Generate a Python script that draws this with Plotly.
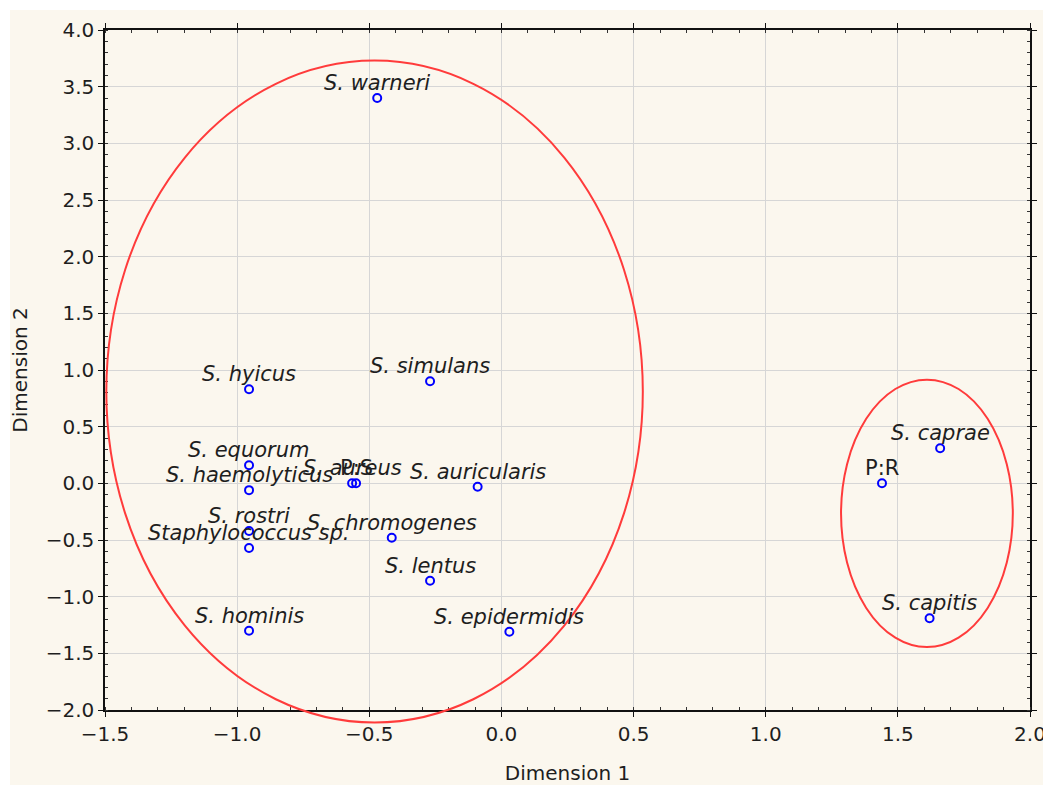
import plotly.graph_objects as go

# ---- data ----
names = ["S. warneri", "S. simulans", "S. hyicus", "S. equorum", "S. haemolyticus",
         "S. aureus", "P:S", "S. auricularis", "S. rostri", "Staphylococcus sp.",
         "S. chromogenes", "S. lentus", "S. hominis", "S. epidermidis",
         "S. caprae", "P:R", "S. capitis"]
dim1 = [-0.47, -0.27, -0.955, -0.955, -0.955,
        -0.565, -0.55, -0.09, -0.955, -0.955,
        -0.415, -0.27, -0.955, 0.03,
        1.66, 1.44, 1.62]
dim2 = [3.40, 0.90, 0.83, 0.16, -0.06,
        0.0, 0.0, -0.03, -0.42, -0.57,
        -0.48, -0.86, -1.30, -1.31,
        0.31, 0.0, -1.19]
italic = [True, True, True, True, True,
          True, False, True, True, True,
          True, True, True, True,
          True, False, True]

# cluster ellipses: centre x, centre y, radius x, radius y (data units)
ell_cx = [-0.48, 1.61]
ell_cy = [0.81, -0.265]
ell_rx = [1.015, 0.325]
ell_ry = [2.92, 1.18]

x_range = [-1.5, 2.0]
y_range = [-2.0, 4.0]

labels = [f"<i>{n}</i>" if it else n for n, it in zip(names, italic)]

FONT = "DejaVu Sans"
TXT = "#1e1e1e"

# page has an 8px body margin; figure is sized/positioned to compensate
W, H = 1043, 777
ML, MR, MT, MB = 97, 21, 22, 75
PW, PH = W - ML - MR, H - MT - MB

fig = go.Figure()
fig.add_trace(go.Scatter(
    x=dim1, y=dim2, mode="markers",
    marker=dict(symbol="circle-open", color="#0000ff", size=8,
                line=dict(width=2, color="#0000ff")),
    hoverinfo="skip", showlegend=False, cliponaxis=False,
))

annotations = [
    dict(x=x, y=y, xref="x", yref="y", text=t, showarrow=False,
         xanchor="center", yanchor="middle", yshift=15,
         font=dict(family=FONT, size=21, color=TXT))
    for x, y, t in zip(dim1, dim2, labels)
]


def frac(v, r):
    return (v - r[0]) / (r[1] - r[0])


shapes = []
# cream background (paper coords, extends outside the plot area)
shapes.append(dict(type="rect", xref="paper", yref="paper",
                   x0=(2 - ML) / PW, x1=(W + 5 - ML) / PW,
                   y0=-(MB + 5) / PH, y1=(PH + MT - 2) / PH,
                   fillcolor="#fbf7ee", line=dict(width=0), layer="below"))
for cx, cy, rx, ry in zip(ell_cx, ell_cy, ell_rx, ell_ry):
    shapes.append(dict(type="circle", xref="paper", yref="paper",
                       x0=frac(cx - rx, x_range), x1=frac(cx + rx, x_range),
                       y0=frac(cy - ry, y_range), y1=frac(cy + ry, y_range),
                       line=dict(color="#ff3b3b", width=2), layer="above"))

axis_common = dict(
    showline=True, linecolor="#111111", linewidth=1.5, mirror="allticks",
    showgrid=True, gridcolor="#d6d6d6", gridwidth=1,
    zeroline=False, ticks="outside", ticklen=5, tickcolor="#111111",
    tickformat=".1f", dtick=0.5, automargin=False,
    tickfont=dict(family=FONT, size=20, color=TXT),
    minor=dict(dtick=0.1, ticks="inside", ticklen=3, tickcolor="#333333",
               showgrid=False),
)

fig.update_layout(
    width=W, height=H,
    margin=dict(l=ML, r=MR, t=MT, b=MB),
    paper_bgcolor="white", plot_bgcolor="white",
    shapes=shapes, annotations=annotations,
    xaxis=dict(range=x_range, tick0=-1.5,
               title=dict(text="Dimension 1", font=dict(family=FONT, size=20, color=TXT),
                          standoff=22),
               **axis_common),
    yaxis=dict(range=y_range, tick0=-2.0,
               title=dict(text="Dimension 2", font=dict(family=FONT, size=20, color=TXT),
                          standoff=15),
               **axis_common),
)

fig.write_html("out.html")
